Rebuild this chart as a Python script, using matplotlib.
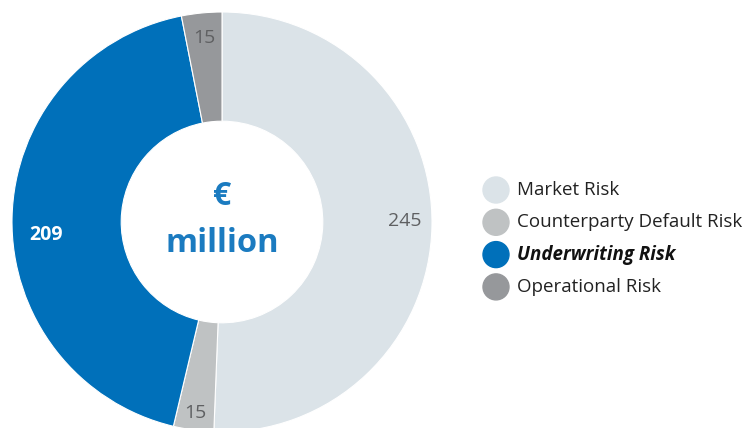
import numpy as np
import matplotlib.pyplot as plt
from matplotlib.patches import Circle

labels = ["Market Risk", "Counterparty Default Risk", "Underwriting Risk", "Operational Risk"]
values = [245, 15, 209, 15]
colors = ["#dbe3e8", "#bfc2c3", "#0070ba", "#96989b"]
label_colors = ["#5f6062", "#5f6062", "white", "#5f6062"]

W, H = 747, 428
plt.rcParams["font.family"] = ["Open Sans", "DejaVu Sans"]

fig = plt.figure(figsize=(W / 100, H / 100), dpi=100)

# donut axes in pixel coordinates: centre (222, 222), radius 210
cx, cy, r = 222, 222, 210
ax = fig.add_axes([(cx - r) / W, (H - cy - r) / H, 2 * r / W, 2 * r / H])
wedges, _ = ax.pie(values, colors=colors, startangle=90, counterclock=False,
                   radius=1, wedgeprops=dict(width=0.52, edgecolor="white", linewidth=0.8))
ax.set_xlim(-1, 1)
ax.set_ylim(-1, 1)
ax.set_aspect("equal")
ax.axis("off")

# value labels, a little off the wedge middle like the original
label_r = [0.87, 0.92, 0.84, 0.88]
label_shift = [-1.5, 0, -5.5, 0]  # degrees
total = sum(values)
angle = 90.0
for v, c, rr, sh in zip(values, label_colors, label_r, label_shift):
    sweep = v / total * 360
    mid = np.deg2rad(angle - sweep / 2 - sh)
    angle -= sweep
    ax.text(rr * np.cos(mid), rr * np.sin(mid), str(v), ha="center", va="center",
            fontsize=14, color=c, fontweight="bold" if c == "white" else "normal")

ax.text(0, 0.12, "€", ha="center", va="center", fontsize=23, fontweight="bold", color="#1b7bc0")
ax.text(0, -0.1, "million", ha="center", va="center", fontsize=23.5, fontweight="bold", color="#1b7bc0")

# legend drawn in figure pixel space
lax = fig.add_axes([0, 0, 1, 1])
lax.set_xlim(0, W)
lax.set_ylim(H, 0)
lax.axis("off")
for i, (lab, col) in enumerate(zip(labels, colors)):
    y = 190 + i * 32.3
    lax.add_patch(Circle((496, y), 13, color=col))
    if lab == "Underwriting Risk":
        lax.text(517, y, lab, va="center", ha="left", fontsize=13.5, color="#111111",
                 fontweight="bold", fontstyle="italic")
    else:
        lax.text(517, y, lab, va="center", ha="left", fontsize=13.5, color="#222222")

fig.savefig("out.png", dpi=100)
